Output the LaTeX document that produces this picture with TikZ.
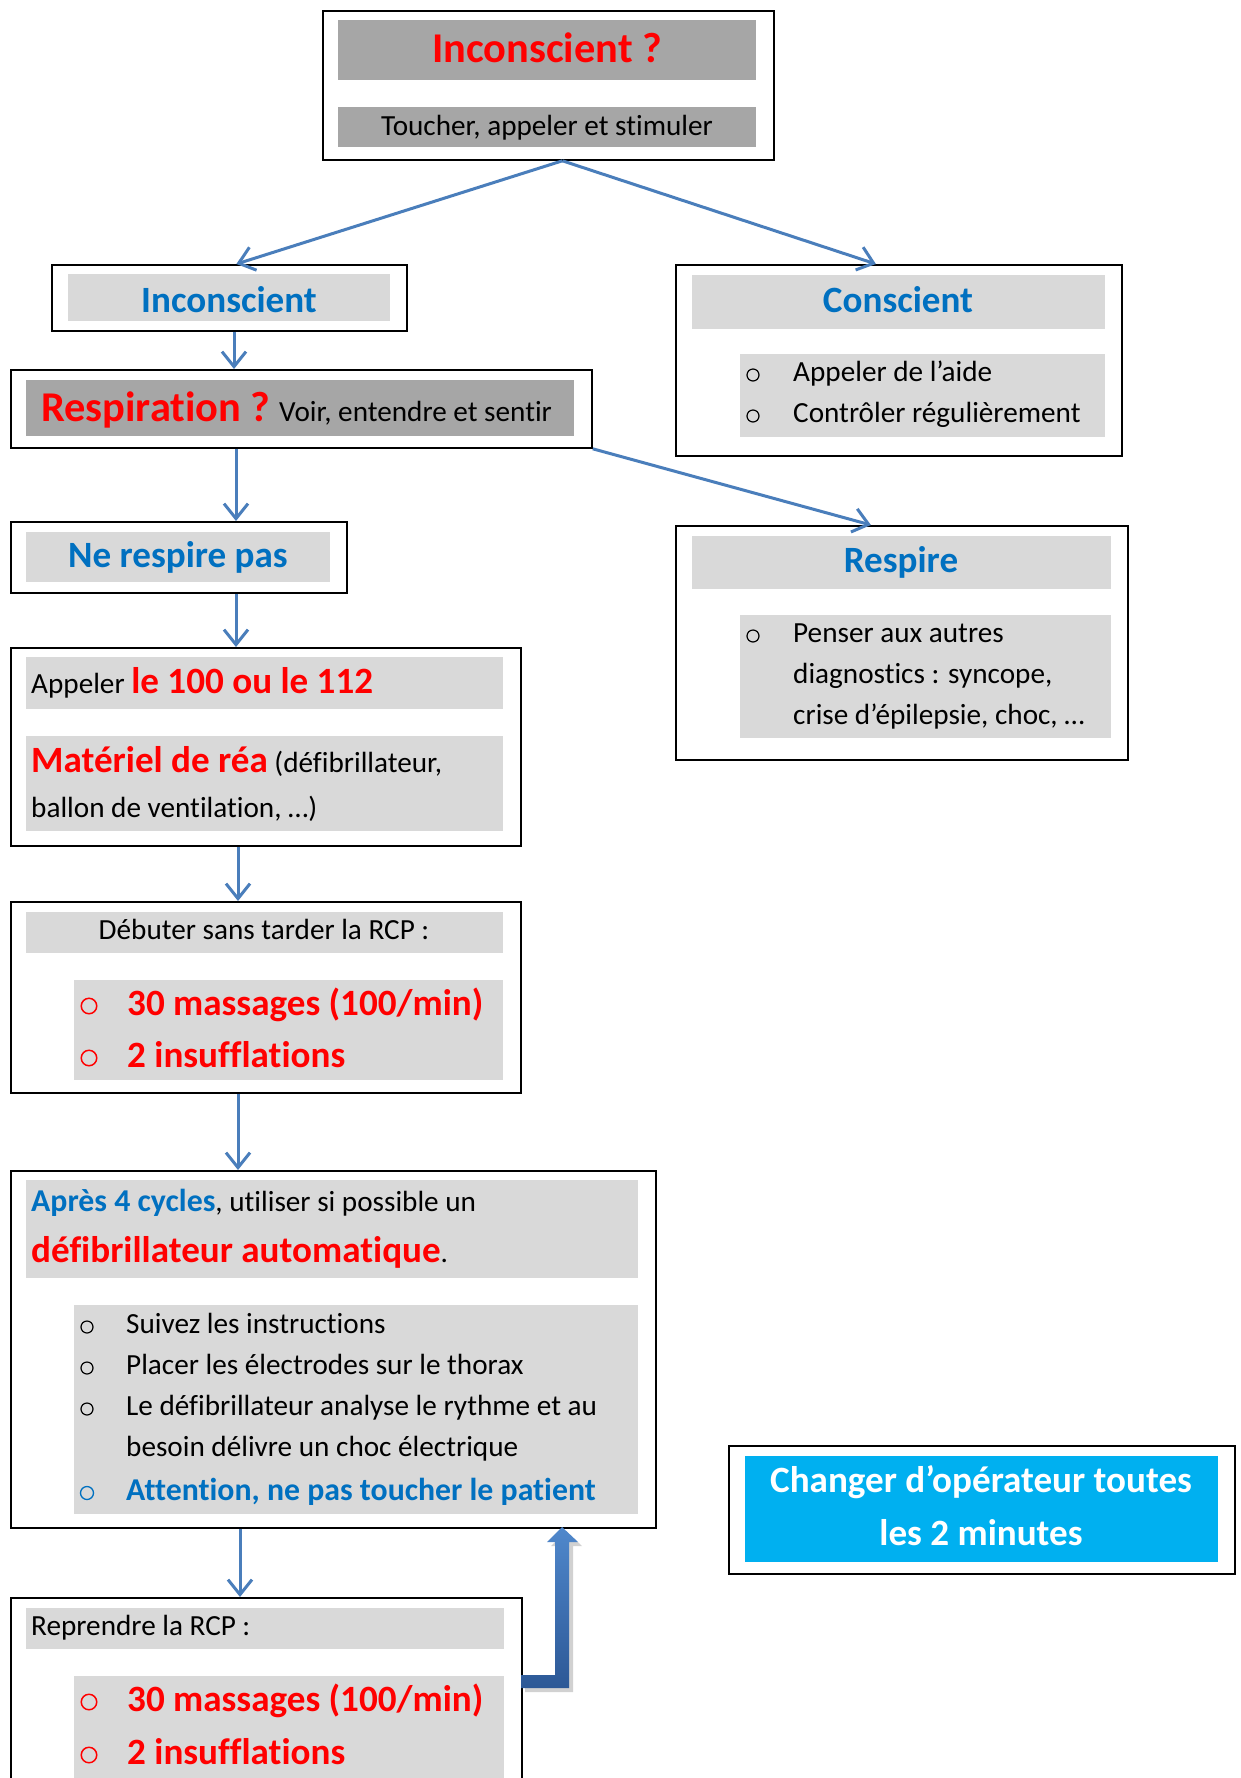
\documentclass[tikz,border=0pt]{standalone}
\usepackage{fontspec}
\setmainfont{Carlito}[Ligatures={NoCommon,NoContextual,NoRare},Contextuals=NoAlternate]
\usetikzlibrary{arrows.meta,calc}
\definecolor{abl}{HTML}{4A7EBB}
\definecolor{tblue}{HTML}{0070C0}
\definecolor{tred}{HTML}{FF0000}
\definecolor{lgray}{HTML}{D9D9D9}
\definecolor{dgray}{HTML}{A6A6A6}
\definecolor{cyanbox}{HTML}{00B0F0}
\definecolor{blkA}{HTML}{5088CC}
\definecolor{blkB}{HTML}{2C5896}
\newcommand\szA{\fontsize{29.2}{35}\selectfont}
\newcommand\szB{\fontsize{31.8}{38}\selectfont}
\newcommand\szC{\fontsize{37.1}{44}\selectfont}
\newcommand\szD{\fontsize{42.4}{50}\selectfont}
\begin{document}
\begin{tikzpicture}[x=1pt,y=-1pt,
 outer/.style={draw=black,line width=1.8pt,inner sep=0pt,anchor=north west},
 panel/.style={fill=lgray,inner sep=0pt,anchor=north west},
 dpanel/.style={fill=dgray,inner sep=0pt,anchor=north west},
 txt/.style={inner sep=0pt,anchor=base west,font=\szA},
 ctxt/.style={inner sep=0pt,anchor=base,font=\szA},
 bul/.style={circle,draw=black,line width=1.2pt,inner sep=0pt,minimum size=12pt},
 rbul/.style={circle,draw=tred,line width=1.5pt,inner sep=0pt,minimum size=15.5pt},
 bbul/.style={circle,draw=tblue,line width=1.3pt,inner sep=0pt,minimum size=13pt},
 conn/.style={draw=abl,line width=3pt,-{Straight Barb[length=15pt,width=24pt]}}
]
\useasboundingbox (0,0) rectangle (1240,1778);
\fill[white] (0,0) rectangle (1240,1778);
\clip (0,0) rectangle (1240,1778);

% ---------- top box
\node[dpanel,minimum width=418pt,minimum height=60pt] (topg1) at (338,20) {};
\node[dpanel,minimum width=418pt,minimum height=40pt] (topg2) at (338,107) {};
\node[outer,minimum width=451pt,minimum height=149pt] (top) at (322,10) {};
\node[ctxt,font=\bfseries\szD,text=tred] (toptitle) at (547,62) {Inconscient ?};
\node[ctxt] (topsub) at (547,135) {Toucher, appeler et stimuler};

% ---------- Inconscient
\node[panel,minimum width=322pt,minimum height=47pt] (incg) at (68,274) {};
\node[outer,minimum width=355pt,minimum height=66pt] (inc) at (51,264) {};
\node[ctxt,font=\bfseries\szC,text=tblue] (inct) at (229,312) {Inconscient};

% ---------- Conscient
\node[panel,minimum width=413pt,minimum height=54pt] (consg1) at (692,275) {};
\node[panel,minimum width=365pt,minimum height=83pt] (consg2) at (740,354) {};
\node[outer,minimum width=446pt,minimum height=191pt] (cons) at (675,264) {};
\node[ctxt,font=\bfseries\szC,text=tblue] (const) at (898,312) {Conscient};
\node[bul] (cb1) at (753,375) {};
\node[txt] (cl1) at (793,381) {Appeler de l’aide};
\node[bul] (cb2) at (753,416) {};
\node[txt] (cl2) at (793,422) {Contrôler régulièrement};

% ---------- Respiration
\node[dpanel,minimum width=548pt,minimum height=56pt] (respg) at (26,380) {};
\node[outer,minimum width=581pt,minimum height=78pt] (resp) at (10,369) {};
\node[txt] (respt) at (41,421) {\textcolor{tred}{\bfseries\szD Respiration ?} Voir, entendre et sentir};

% ---------- Ne respire pas
\node[panel,minimum width=304pt,minimum height=50pt] (nrpg) at (26,532) {};
\node[outer,minimum width=336pt,minimum height=71pt] (nrp) at (10,521) {};
\node[ctxt,font=\bfseries\szC,text=tblue] (nrpt) at (178,567) {Ne respire pas};

% ---------- Respire
\node[panel,minimum width=419pt,minimum height=53pt] (rspg1) at (692,536) {};
\node[panel,minimum width=371pt,minimum height=123pt] (rspg2) at (740,615) {};
\node[outer,minimum width=452pt,minimum height=234pt] (rsp) at (675,525) {};
\node[ctxt,font=\bfseries\szC,text=tblue] (rspt) at (901,572) {Respire};
\node[bul] (rb1) at (753,636) {};
\node[txt] (rl1) at (793,642) {Penser aux autres};
\node[txt] (rl2) at (793,683) {diagnostics : syncope,};
\node[txt] (rl3) at (793,724) {crise d’épilepsie, choc, …};

% ---------- Appeler
\node[panel,minimum width=477pt,minimum height=52pt] (appg1) at (26,657) {};
\node[panel,minimum width=477pt,minimum height=95pt] (appg2) at (26,736) {};
\node[outer,minimum width=510pt,minimum height=198pt] (app) at (10,647) {};
\node[txt] (appl1) at (31,693) {Appeler \textcolor{tred}{\bfseries\szC le 100 ou le 112}};
\node[txt] (appl2) at (31,772) {\textcolor{tred}{\bfseries\szC Matériel de réa} (défibrillateur,};
\node[txt] (appl3) at (31,817) {ballon de ventilation, …)};

% ---------- Debuter
\node[panel,minimum width=477pt,minimum height=41pt] (debg1) at (26,912) {};
\node[panel,minimum width=429pt,minimum height=100pt] (debg2) at (74,980) {};
\node[outer,minimum width=510pt,minimum height=191pt] (deb) at (10,901) {};
\node[ctxt] (debt) at (264,939) {Débuter sans tarder la RCP :};
\node[rbul] (db1) at (89,1006) {};
\node[txt,font=\bfseries\szC,text=tred] (dl1) at (127,1015) {30 massages (100/min)};
\node[rbul] (db2) at (89,1058) {};
\node[txt,font=\bfseries\szC,text=tred] (dl2) at (127,1067) {2 insufflations};

% ---------- Apres
\node[panel,minimum width=612pt,minimum height=98pt] (apg1) at (26,1180) {};
\node[panel,minimum width=564pt,minimum height=209pt] (apg2) at (74,1305) {};
\node[outer,minimum width=645pt,minimum height=357pt] (ap) at (10,1170) {};
\node[txt] (apl1) at (31,1211) {\textcolor{tblue}{\bfseries\szB Après 4 cycles}, utiliser si possible un};
\node[txt] (apl2) at (31,1262) {\textcolor{tred}{\bfseries\szC défibrillateur automatique}.};
\node[bul] (ab1) at (87,1327) {};
\node[txt] (ai1) at (126,1333) {Suivez les instructions};
\node[bul] (ab2) at (87,1368) {};
\node[txt] (ai2) at (126,1374) {Placer les électrodes sur le thorax};
\node[bul] (ab3) at (87,1409) {};
\node[txt] (ai3) at (126,1415) {Le défibrillateur analyse le rythme et au};
\node[txt] (ai4) at (126,1456) {besoin délivre un choc électrique};
\node[bbul] (ab5) at (87,1493) {};
\node[txt,font=\bfseries\szB,text=tblue] (ai5) at (126,1500) {Attention, ne pas toucher le patient};

% ---------- Reprendre
\node[panel,minimum width=478pt,minimum height=41pt] (repg1) at (26,1608) {};
\node[panel,minimum width=430pt,minimum height=160pt] (repg2) at (74,1676) {};
\node[outer,minimum width=511pt,minimum height=260pt] (rep) at (10,1597) {};
\node[txt] (rept) at (31,1635) {Reprendre la RCP :};
\node[rbul] (pb1) at (89,1702) {};
\node[txt,font=\bfseries\szC,text=tred] (pl1) at (127,1711) {30 massages (100/min)};
\node[rbul] (pb2) at (89,1755) {};
\node[txt,font=\bfseries\szC,text=tred] (pl2) at (127,1764) {2 insufflations};

% ---------- Changer
\node[fill=cyanbox,inner sep=0pt,anchor=north west,minimum width=473pt,minimum height=106pt] (chg) at (745,1456) {};
\node[outer,minimum width=506pt,minimum height=128pt] (ch) at (728,1445) {};
\node[ctxt,font=\bfseries\szC,text=white] (cht1) at (981,1492) {Changer d’opérateur toutes};
\node[ctxt,font=\bfseries\szC,text=white] (cht2) at (981,1545) {les 2 minutes};

% ---------- thin connectors
\coordinate (ax1) at (234,0);
\coordinate (ax2) at (236,0);
\coordinate (ax3) at (238,0);
\coordinate (ax4) at (240,0);
\draw[conn] ($(top.south)+(14,0)$) -- ($(inc.north)+(7,0)$);
\draw[conn] ($(top.south)+(14,0)$) -- ($(cons.north)+(-23,0)$);
\draw[conn] (inc.south -| ax1) -- (resp.north -| ax1);
\draw[conn] (resp.south -| ax2) -- (nrp.north -| ax2);
\draw[conn] (resp.south east) -- ($(rsp.north)+(-31,0)$);
\draw[conn] (nrp.south -| ax2) -- (app.north -| ax2);
\draw[conn] (app.south -| ax3) -- (deb.north -| ax3);
\draw[conn] (deb.south -| ax3) -- (ap.north -| ax3);
\draw[conn] (ap.south -| ax4) -- (rep.north -| ax4);

% ---------- block arrow from Reprendre back to Apres
\fill[black,opacity=0.18] (525,1679) -- (559,1679) -- (559,1546) -- (551,1546) -- (566,1531) -- (582,1546) -- (573,1546) -- (573,1692) -- (525,1692) -- cycle;
\shade[top color=blkA,bottom color=blkB] (521,1675) -- (555,1675) -- (555,1542) -- (547,1542) -- (562,1527) -- (578,1542) -- (569,1542) -- (569,1688) -- (521,1688) -- cycle;
\end{tikzpicture}
\end{document}
